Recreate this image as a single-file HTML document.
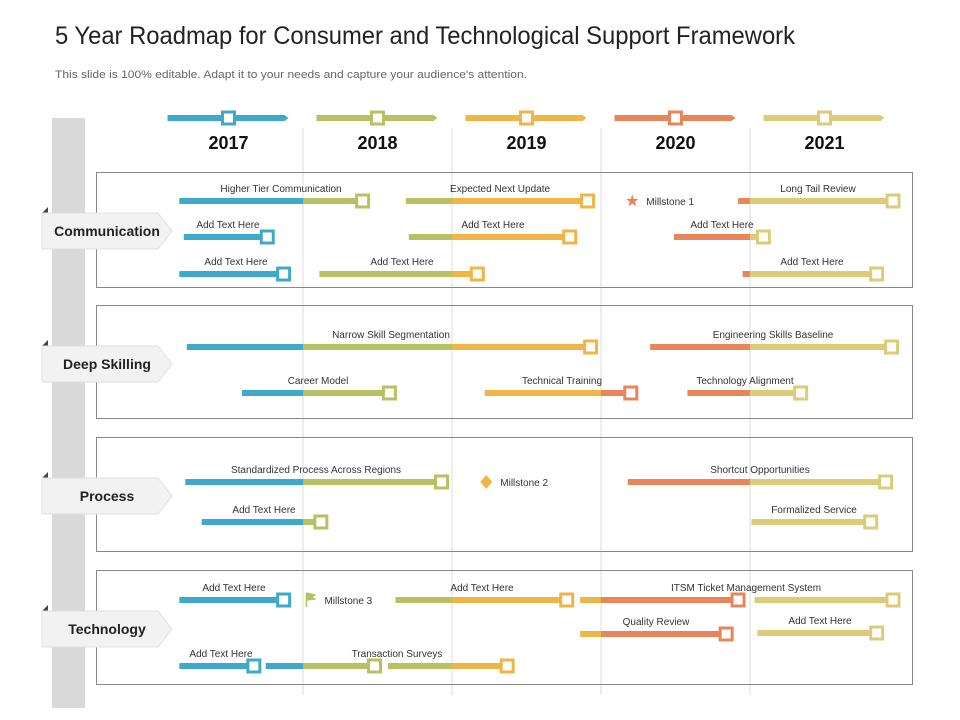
<!DOCTYPE html>
<html><head><meta charset="utf-8"><style>
body{margin:0;background:#fff;font-family:"Liberation Sans",sans-serif;}
#wrap{position:relative;width:960px;height:720px;overflow:hidden;}
</style></head><body>
<div id="wrap">
<svg id="chart" width="960" height="720" xmlns="http://www.w3.org/2000/svg">
<text x="55" y="44" font-size="25" fill="#222" font-family="Liberation Sans Narrow, Liberation Sans, sans-serif" textLength="740" lengthAdjust="spacingAndGlyphs">5 Year Roadmap for Consumer and Technological Support Framework</text>
<text x="55" y="78" font-size="11" fill="#666" font-family="Liberation Sans Narrow, Liberation Sans, sans-serif" textLength="472" lengthAdjust="spacingAndGlyphs">This slide is 100% editable. Adapt it to your needs and capture your audience's attention.</text>
<rect x="52" y="118" width="33" height="590" fill="#d9d9d9"/>
<g id="g"></g>
</svg>
</div>
<script>
const years=[2017,2018,2019,2020,2021];
const colors=['#3fa9c9','#b8c162','#f0b547','#e8855a','#decb7a'];
const categories=['Communication','Deep Skilling','Process','Technology'];
const catY=[231,364,496,629];
const boxes=[[172,287],[305,418],[437,551],[570,684]];
const barLabels=['Higher Tier Communication','Expected Next Update','Long Tail Review','Add Text Here','Add Text Here','Add Text Here','Add Text Here','Add Text Here','Add Text Here',
'Narrow Skill Segmentation','Engineering Skills Baseline','Career Model','Technical Training','Technology Alignment',
'Standardized Process Across Regions','Shortcut Opportunities','Add Text Here','Formalized Service',
'Add Text Here','Add Text Here','ITSM  Ticket Management System','','Quality Review','Add Text Here','Add Text Here','Transaction Surveys',''];
const barStart=[2017.17,2018.69,2020.92,2017.20,2018.71,2020.49,2017.17,2018.11,2020.95,
2017.22,2020.33,2017.59,2019.22,2020.58,
2017.21,2020.18,2017.32,2021.01,
2017.17,2018.62,2019.86,2021.03,2019.86,2021.05,2017.17,2017.75,2018.57];
const barEnd=[2018.40,2019.91,2021.96,2017.76,2019.79,2021.09,2017.87,2019.17,2021.85,
2019.93,2021.95,2018.58,2020.20,2021.34,
2018.93,2021.91,2018.12,2021.81,
2017.87,2019.77,2020.92,2021.96,2020.84,2021.85,2017.67,2018.48,2019.37];
const barRow=[201,201,201,237,237,237,274,274,274,347,347,393,393,393,482,482,522,522,600,600,600,600,634,633,666,666,666];
const labelX=[281,500,818,228,493,722,236,402,812,391,773,318,562,745,316,760,264,814,234,482,746,0,656,820,221,397,0];
const milestones=['Millstone 1','Millstone 2','Millstone 3'];
const msYear=[2020.21,2019.23,2018.05];
const msRow=[201,482,600];
const msShape=['star','diamond','flag'];

const NS='http://www.w3.org/2000/svg';
const g=document.getElementById('g');
const X=v=>154+(v-2017)*149;
function el(t,a,p){const e=document.createElementNS(NS,t);for(const k in a)e.setAttribute(k,a[k]);(p||g).appendChild(e);return e;}
function colorAt(v){let i=Math.floor(v-2017);return colors[Math.max(0,Math.min(4,i))];}

for(let i=1;i<years.length;i++){
  const d=el('line',{x1:X(years[i]),x2:X(years[i]),y1:128,y2:695,stroke:'#dcdcdc','stroke-width':1});
  
  
}
years.forEach((y,i)=>{
  const c=X(y+0.5);
  const p=el('path',{d:`M${c-61},115 H${c+56} L${c+60},118 L${c+56},121 H${c-61}Z`,fill:colors[i]});
  
  
  const m=el('rect',{x:c-6,y:112,width:12,height:12,fill:'#fff',stroke:colors[i],'stroke-width':3});
  
  
  const t=el('text',{x:c,y:149,'text-anchor':'middle','font-size':18,'font-weight':'bold',fill:'#111'});
  t.textContent=y;
  
  
});
boxes.forEach((b,i)=>{
  const r=el('rect',{x:96.5,y:b[0]+0.5,width:816,height:b[1]-b[0],fill:'none',stroke:'#888','stroke-width':1});
  
  
  const cy=catY[i];
  const tri=el('path',{d:`M42,${cy-18} L48,${cy-24} L48,${cy-18}Z`,fill:'#444'});
  
  
  const tab=el('path',{d:`M42,${cy-18} H158 L172,${cy} L158,${cy+18} H42Z`,fill:'#f2f2f2',stroke:'#e0e0e0','stroke-width':1});
  
  
  const t=el('text',{x:107,y:cy+5,'text-anchor':'middle','font-size':14,'font-weight':'bold',fill:'#222'});
  t.textContent=categories[i];
  
  
});
barStart.forEach((s,i)=>{
  const e=barEnd[i],y=barRow[i];
  let v=s;
  while(v<e-1e-6){
    const nx=Math.min(e,Math.floor(v+1e-6)+1);
    const r=el('rect',{x:X(v),y:y-3,width:X(nx)-X(v),height:6,fill:colorAt(v+1e-6)});
    
    
    v=nx;
  }
  const m=el('rect',{x:X(e)-6,y:y-6,width:12,height:12,fill:'#fff',stroke:colorAt(e-1e-6),'stroke-width':3});
  
  
  if(barLabels[i]){
    const t=el('text',{x:labelX[i],y:y-9,'text-anchor':'middle','font-size':10,fill:'#333'});
    t.textContent=barLabels[i];
    
    
  }
});
milestones.forEach((n,i)=>{
  const x=X(msYear[i]),y=msRow[i];
  let s;
  if(msShape[i]=='star'){
    let d='';for(let k=0;k<10;k++){const a=-Math.PI/2+k*Math.PI/5,r=k%2?2.6:6.5;d+=(k?'L':'M')+(x+r*Math.cos(a)).toFixed(1)+','+(y+r*Math.sin(a)).toFixed(1);}
    s=el('path',{d:d+'Z',fill:'#e8855a'});
  }else if(msShape[i]=='diamond'){
    s=el('path',{d:`M${x},${y-7} L${x+6},${y} L${x},${y+7} L${x-6},${y}Z`,fill:'#f0b547'});
  }else{
    s=el('path',{d:`M${x-4},${y-7} V${y+7} M${x-4},${y-7} L${x+4},${y-5} L${x+1},${y-3} L${x+4},${y-1} L${x-4},${y}`,fill:'#b8c162',stroke:'#b8c162','stroke-width':1.5});
  }
  
  
  const t=el('text',{x:x+14,y:y+4,'font-size':10,fill:'#333'});
  t.textContent=n;
  
  
});
</script>
</body></html>
